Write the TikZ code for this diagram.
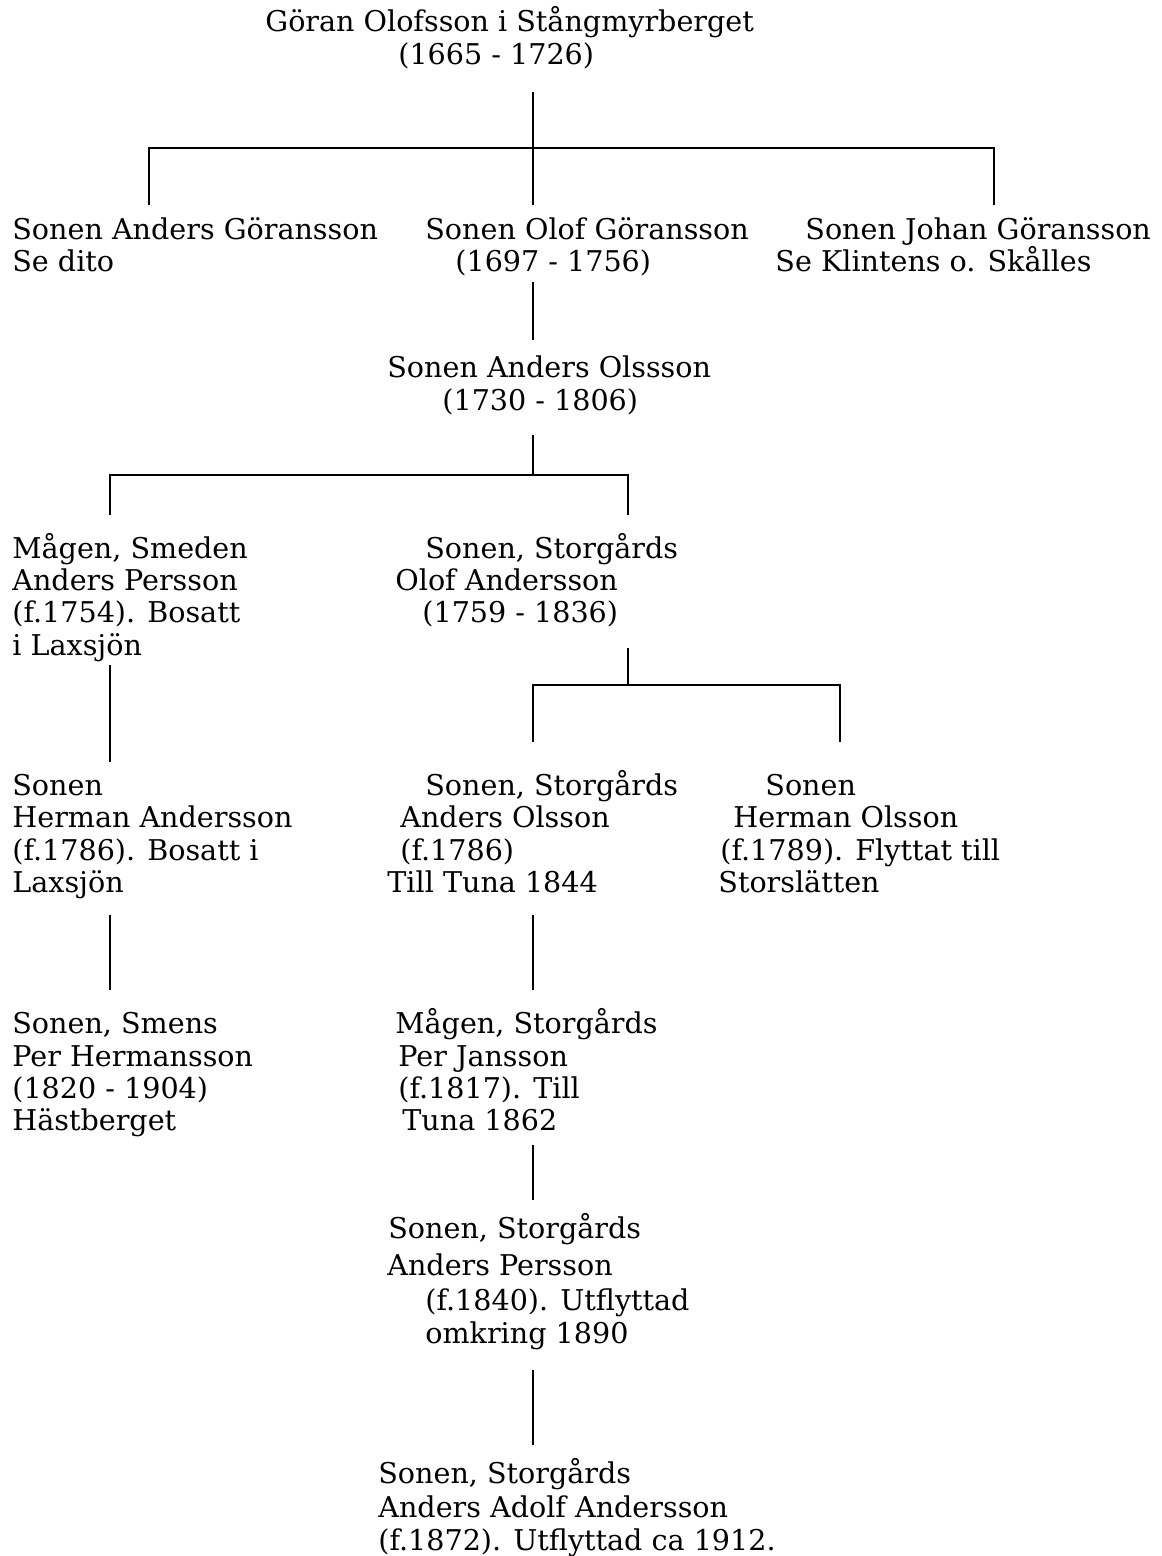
\documentclass[tikz,border=0pt]{standalone}
\usepackage{fontspec}
\setmainfont{DejaVu Serif}
\begin{document}
\begin{tikzpicture}[x=0.5pt,y=-0.5pt,
  txt/.style={anchor=base west,inner sep=0pt,font=\fontsize{14.3}{16}\selectfont},
  link/.style={draw=black,line width=0.9pt}]
\useasboundingbox (0,0) rectangle (1161,1556);
% Row 1
\node[txt] (g1) at (265,32) {Göran Olofsson i Stångmyrberget};
\node[txt] (g2) at (398,65) {(1665 - 1726)};
% Row 2
\node[txt] (a1) at (12,240) {Sonen Anders Göransson};
\node[txt] (a2) at (12,272) {Se dito};
\node[txt] (o1) at (425,240) {Sonen Olof Göransson};
\node[txt] (o2) at (455,272) {(1697 - 1756)};
\node[txt] (j1) at (805,240) {Sonen Johan Göransson};
\node[txt] (j2) at (775,272) {Se Klintens o. Skålles};
% Row 3
\node[txt] (ao1) at (387,378) {Sonen Anders Olssson};
\node[txt] (ao2) at (442,410) {(1730 - 1806)};
% Row 4
\node[txt] (ap1) at (12,558) {Mågen, Smeden};
\node[txt] (ap2) at (12,590) {Anders Persson};
\node[txt] (ap3) at (12,622) {(f.1754). Bosatt};
\node[txt] (ap4) at (12,655) {i Laxsjön};
\node[txt] (oa1) at (425,558) {Sonen, Storgårds};
\node[txt] (oa2) at (395,590) {Olof Andersson};
\node[txt] (oa3) at (422,622) {(1759 - 1836)};
% Row 5
\node[txt] (ha1) at (12,795) {Sonen};
\node[txt] (ha2) at (12,827) {Herman Andersson};
\node[txt] (ha3) at (12,860) {(f.1786). Bosatt i};
\node[txt] (ha4) at (12,892) {Laxsjön};
\node[txt] (as1) at (425,795) {Sonen, Storgårds};
\node[txt] (as2) at (400,827) {Anders Olsson};
\node[txt] (as3) at (400,860) {(f.1786)};
\node[txt] (as4) at (387,892) {Till Tuna 1844};
\node[txt] (ho1) at (765,795) {Sonen};
\node[txt] (ho2) at (733,827) {Herman Olsson};
\node[txt] (ho3) at (720,860) {(f.1789). Flyttat till};
\node[txt] (ho4) at (718,892) {Storslätten};
% Row 6
\node[txt] (ph1) at (12,1033) {Sonen, Smens};
\node[txt] (ph2) at (12,1066) {Per Hermansson};
\node[txt] (ph3) at (12,1098) {(1820 - 1904)};
\node[txt] (ph4) at (12,1130) {Hästberget};
\node[txt] (pj1) at (395,1033) {Mågen, Storgårds};
\node[txt] (pj2) at (398,1066) {Per Jansson};
\node[txt] (pj3) at (398,1098) {(f.1817). Till};
\node[txt] (pj4) at (402,1130) {Tuna 1862};
% Row 7
\node[txt] (pe1) at (388,1238) {Sonen, Storgårds};
\node[txt] (pe2) at (387,1275) {Anders Persson};
\node[txt] (pe3) at (425,1310) {(f.1840). Utflyttad};
\node[txt] (pe4) at (425,1343) {omkring 1890};
% Row 8
\node[txt] (aa1) at (378,1483) {Sonen, Storgårds};
\node[txt] (aa2) at (378,1517) {Anders Adolf Andersson};
\node[txt] (aa3) at (378,1550) {(f.1872). Utflyttad ca 1912.};
% connectors
\coordinate (c1t) at (533,92);
\coordinate (c1m) at (533,148);
\coordinate (c1l) at (149,205);
\coordinate (c1c) at (533,205);
\coordinate (c1r) at (994,205);
\draw[link] (c1t) -- (c1m);
\draw[link] (c1l) |- (c1m) -| (c1r);
\draw[link] (c1m) -- (c1c);
\coordinate (c2t) at (533,282);
\coordinate (c2b) at (533,340);
\draw[link] (c2t) -- (c2b);
\coordinate (c3t) at (533,435);
\coordinate (c3m) at (533,475);
\coordinate (c3l) at (110,515);
\coordinate (c3r) at (628,515);
\draw[link] (c3t) -- (c3m);
\draw[link] (c3l) |- (c3m) -| (c3r);
\coordinate (c4t) at (628,648);
\coordinate (c4m) at (628,685);
\coordinate (c4l) at (533,742);
\coordinate (c4r) at (840,742);
\draw[link] (c4t) -- (c4m);
\draw[link] (c4l) |- (c4m) -| (c4r);
\coordinate (c5t) at (110,665);
\coordinate (c5b) at (110,762);
\draw[link] (c5t) -- (c5b);
\coordinate (c6t) at (110,915);
\coordinate (c6b) at (110,990);
\draw[link] (c6t) -- (c6b);
\coordinate (c7t) at (533,915);
\coordinate (c7b) at (533,990);
\draw[link] (c7t) -- (c7b);
\coordinate (c8t) at (533,1145);
\coordinate (c8b) at (533,1200);
\draw[link] (c8t) -- (c8b);
\coordinate (c9t) at (533,1370);
\coordinate (c9b) at (533,1445);
\draw[link] (c9t) -- (c9b);
\end{tikzpicture}
\end{document}
